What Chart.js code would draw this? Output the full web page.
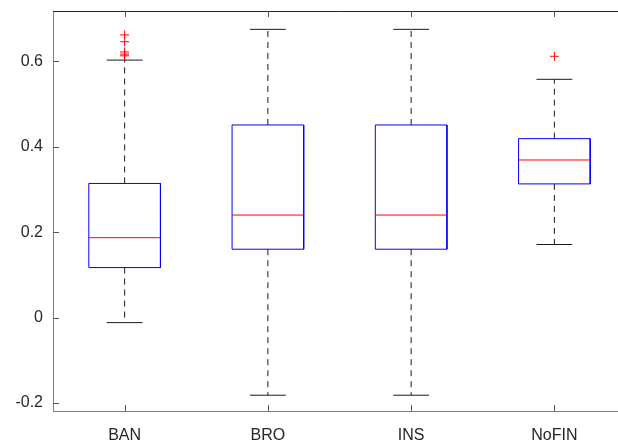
<!DOCTYPE html>
<html>
<head>
<meta charset="utf-8">
<script src="https://cdn.jsdelivr.net/npm/chart.js@4"></script>
<style>
  html, body { margin: 0; padding: 0; background: #fff; overflow: hidden; }
  #wrap { width: 640px; height: 446px; }
</style>
</head>
<body>
<div id="wrap"><canvas id="boxChart" width="640" height="446"></canvas></div>
<script>
const categories = ['BAN', 'BRO', 'INS', 'NoFIN'];
const whiskerLow = [-0.012, -0.182, -0.182, 0.171];
const q1 = [0.117, 0.160, 0.160, 0.313];
const medians = [0.187, 0.240, 0.240, 0.369];
const q3 = [0.314, 0.451, 0.451, 0.419];
const whiskerHigh = [0.603, 0.675, 0.675, 0.558];
const outliers = [
    [0.613, 0.617, 0.622, 0.646, 0.662],
    [],
    [],
    [0.612]
];
const yTicks = [-0.2, 0, 0.2, 0.4, 0.6];

const boxHalf = 0.25;
const capHalf = 0.125;
const gap = { x: null, y: null };

// build line segments from the arrays, broken by gaps
const boxPts = [], medPts = [], whiskPts = [], capPts = [], outPts = [];
categories.forEach((c, i) => {
    const x = i + 1;
    boxPts.push({ x: x - boxHalf, y: q1[i] }, { x: x - boxHalf, y: q3[i] },
                { x: x + boxHalf, y: q3[i] }, { x: x + boxHalf, y: q1[i] },
                { x: x - boxHalf, y: q1[i] }, gap);
    medPts.push({ x: x - boxHalf, y: medians[i] }, { x: x + boxHalf, y: medians[i] }, gap);
    whiskPts.push({ x: x, y: q3[i] }, { x: x, y: whiskerHigh[i] }, gap,
                  { x: x, y: q1[i] }, { x: x, y: whiskerLow[i] }, gap);
    capPts.push({ x: x - capHalf, y: whiskerHigh[i] }, { x: x + capHalf, y: whiskerHigh[i] }, gap,
                { x: x - capHalf, y: whiskerLow[i] }, { x: x + capHalf, y: whiskerLow[i] }, gap);
    outliers[i].forEach(v => outPts.push({ x: x, y: v }));
});

const lineBase = { type: 'line', pointRadius: 0, borderWidth: 1, tension: 0, spanGaps: false, fill: false };

// inward MATLAB-style ticks plus the top/right box lines
const frame = {
    id: 'frame',
    afterDraw(chart) {
        const { ctx, chartArea: a, scales } = chart;
        ctx.save();
        ctx.strokeStyle = '#262626';
        ctx.lineWidth = 1;
        ctx.beginPath();
        ctx.moveTo(a.left, a.top + 0.5);
        ctx.lineTo(a.right, a.top + 0.5);
        ctx.moveTo(a.right - 0.5, a.top);
        ctx.lineTo(a.right - 0.5, a.bottom);
        ctx.stroke();
        ctx.strokeStyle = '#555';
        ctx.beginPath();
        scales.x.ticks.forEach(t => {
            const px = Math.round(scales.x.getPixelForValue(t.value)) + 0.5;
            ctx.moveTo(px, a.bottom); ctx.lineTo(px, a.bottom - 6);
            ctx.moveTo(px, a.top); ctx.lineTo(px, a.top + 6);
        });
        scales.y.ticks.forEach(t => {
            const py = Math.round(scales.y.getPixelForValue(t.value)) + 0.5;
            ctx.moveTo(a.left, py); ctx.lineTo(a.left + 6, py);
            ctx.moveTo(a.right, py); ctx.lineTo(a.right - 6, py);
        });
        ctx.stroke();
        ctx.restore();
    }
};

const ctx = document.getElementById('boxChart').getContext('2d');
const boxChart = new Chart(ctx, {
    data: {
        datasets: [
            { ...lineBase, label: 'Median', data: medPts, borderColor: '#ff0000' },
            { ...lineBase, label: 'Box', data: boxPts, borderColor: '#0000ff' },
            { ...lineBase, label: 'Caps', data: capPts, borderColor: '#1a1a1a' },
            { ...lineBase, label: 'Whiskers', data: whiskPts, borderColor: '#1a1a1a', borderDash: [6, 5] },
            {
                type: 'scatter', label: 'Outliers', data: outPts,
                pointStyle: 'cross', pointRadius: 4.5, borderWidth: 1,
                borderColor: '#ff0000', backgroundColor: '#ff0000'
            }
        ]
    },
    options: {
        responsive: false,
        animation: false,
        devicePixelRatio: 1,
        layout: { padding: { top: 11, right: 14, left: 0, bottom: 0 } },
        plugins: { legend: { display: false }, tooltip: { enabled: false } },
        scales: {
            x: {
                type: 'linear',
                min: 0.5,
                max: 4.5,
                afterBuildTicks: s => { s.ticks = categories.map((c, i) => ({ value: i + 1 })); },
                afterFit: s => { s.height = 35; s.paddingLeft = 0; s.paddingRight = 0; },
                grid: { display: false, drawTicks: false },
                border: { display: true, color: '#808080', width: 1 },
                ticks: {
                    padding: 15,
                    color: '#262626',
                    font: { family: '"Liberation Sans", Arial, sans-serif', size: 16 },
                    callback: v => categories[v - 1]
                }
            },
            y: {
                type: 'linear',
                min: -0.219,
                max: 0.718,
                afterBuildTicks: s => { s.ticks = yTicks.map(v => ({ value: v })); },
                afterFit: s => { s.width = 53; s.paddingTop = 0; s.paddingBottom = 0; },
                grid: { display: false, drawTicks: false },
                border: { display: true, color: '#808080', width: 1 },
                ticks: {
                    padding: 10,
                    color: '#262626',
                    font: { family: '"Liberation Sans", Arial, sans-serif', size: 16 },
                    callback: v => (v === 0 ? '0' : v.toFixed(1))
                }
            }
        }
    },
    plugins: [frame]
});
</script>
</body>
</html>
